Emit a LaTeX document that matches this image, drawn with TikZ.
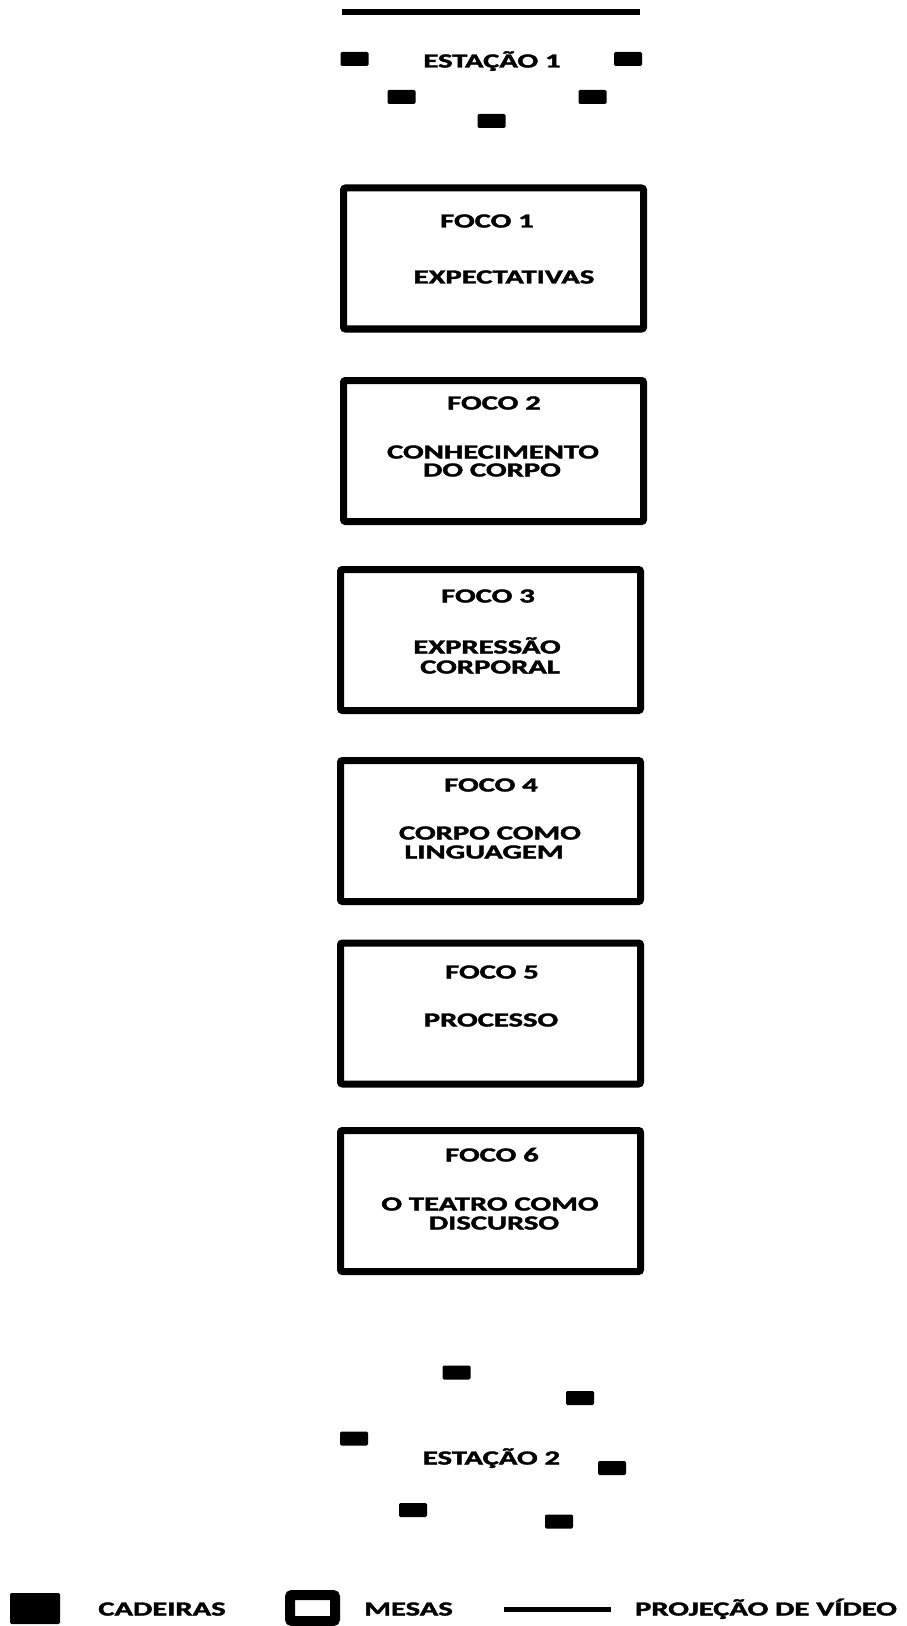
\documentclass[tikz,border=0pt]{standalone}
\usepackage{fontspec}
\setmainfont{Carlito}[BoldFeatures={FakeBold=1.6}]
\newcommand\sx[1]{\scalebox{1.53}[1]{#1}}
\tikzset{
  chair/.style={fill=black, draw=none, rounded corners=1pt, minimum width=21pt, minimum height=10.5pt, inner sep=0pt},
  mesa/.style={draw=black, line width=5.25pt, rounded corners=1.5pt, minimum width=225pt, minimum height=105.75pt, inner sep=0pt},
  lbl/.style={font=\fontsize{15}{17}\selectfont\bfseries, inner sep=0pt, anchor=base, text=black},
}
\begin{document}
\begin{tikzpicture}[x=0.75pt,y=-0.75pt]
\useasboundingbox (0,0) rectangle (906,1626);
% projection screen
\coordinate (scrL) at (342,12);
\coordinate (scrR) at (640,12);
\draw[line width=4.3pt] (scrL) -- (scrR);
% station 1
\node[chair] (s1a) at (354.5,59) {};
\node[chair] (s1b) at (628,59) {};
\node[chair] (s1c) at (401.5,97) {};
\node[chair] (s1d) at (592.5,97) {};
\node[chair] (s1e) at (491.5,121) {};
\node[lbl] (est1) at (492,67.5) {\sx{ESTAÇÃO 1}};
% focus tables
\node[mesa] (m1) at (493.5,258.5) {};
\node[mesa] (m2) at (493.5,451) {};
\node[mesa] (m3) at (490.5,640) {};
\node[mesa] (m4) at (490.5,831) {};
\node[mesa] (m5) at (490.5,1013.5) {};
\node[mesa] (m6) at (490.5,1201) {};
\node[lbl] (f1) at (487,227.5) {\sx{FOCO 1}};
\node[lbl] (f1d) at (504,283.5) {\sx{EXPECTATIVAS}};
\node[lbl] (f2) at (494,409.5) {\sx{FOCO 2}};
\node[lbl] (f2d) at (493,458.5) {\sx{CONHECIMENTO}};
\node[lbl] (f2e) at (492,476.5) {\sx{DO CORPO}};
\node[lbl] (f3) at (488,602.5) {\sx{FOCO 3}};
\node[lbl] (f3d) at (487,653.5) {\sx{EXPRESSÃO}};
\node[lbl] (f3e) at (490,673.5) {\sx{CORPORAL}};
\node[lbl] (f4) at (491,791.5) {\sx{FOCO 4}};
\node[lbl] (f4d) at (490,839.5) {\sx{CORPO COMO}};
\node[lbl] (f4e) at (484,858.5) {\sx{LINGUAGEM}};
\node[lbl] (f5) at (492,978.5) {\sx{FOCO 5}};
\node[lbl] (f5d) at (491,1026.5) {\sx{PROCESSO}};
\node[lbl] (f6) at (492,1161.5) {\sx{FOCO 6}};
\node[lbl] (f6d) at (490,1210.5) {\sx{O TEATRO COMO}};
\node[lbl] (f6e) at (494,1229.5) {\sx{DISCURSO}};
% station 2
\node[chair] (s2a) at (456.5,1372.5) {};
\node[chair] (s2b) at (580,1398) {};
\node[chair] (s2c) at (354,1438.5) {};
\node[chair] (s2d) at (612,1468) {};
\node[chair] (s2e) at (413,1510) {};
\node[chair] (s2f) at (559,1521.5) {};
\node[lbl] (est2) at (491.5,1464.5) {\sx{ESTAÇÃO 2}};
% legend
\node[fill=black, draw=none, rounded corners=1pt, minimum width=37.5pt, minimum height=23.25pt, inner sep=0pt] (lgc) at (35,1608.5) {};
\node[lbl] (lgct) at (162,1615.5) {\sx{CADEIRAS}};
\node[draw=black, line width=7.5pt, rounded corners=1.5pt, minimum width=33.75pt, minimum height=19.5pt, inner sep=0pt] (lgm) at (312.5,1608) {};
\node[lbl] (lgmt) at (408.5,1615.5) {\sx{MESAS}};
\coordinate (lgl1) at (504,1609);
\coordinate (lgl2) at (611,1609);
\draw[line width=3.75pt] (lgl1) -- (lgl2);
\node[lbl] (lgpt) at (766,1615.5) {\sx{PROJEÇÃO DE VÍDEO}};
\end{tikzpicture}
\end{document}
